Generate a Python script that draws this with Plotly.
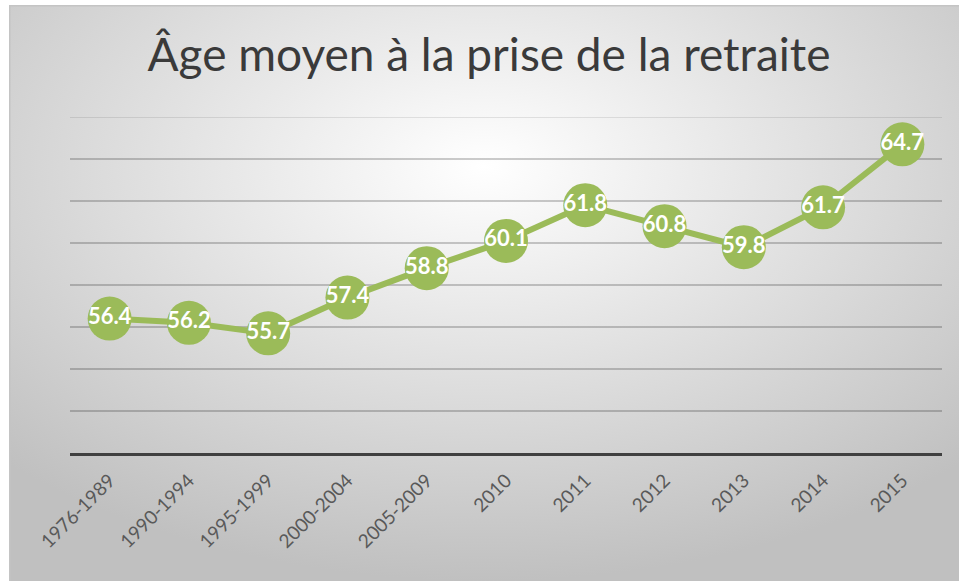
import plotly.graph_objects as go
import base64

categories = ["1976-1989", "1990-1994", "1995-1999", "2000-2004", "2005-2009",
              "2010", "2011", "2012", "2013", "2014", "2015"]
values = [56.4, 56.2, 55.7, 57.4, 58.8, 60.1, 61.8, 60.8, 59.8, 61.7, 64.7]
title_text = "Âge moyen à la prise de la retraite"

W, H = 959, 581
L, R, T, B = 70, 17, 117, 128
pw, ph = W - L - R, H - T - B
BX, BY = 9, 5  # background panel offset

svg = f'''<svg xmlns="http://www.w3.org/2000/svg" width="{W}" height="{H}" viewBox="0 0 {W} {H}" preserveAspectRatio="none">
<defs><radialGradient id="g" cx="50%" cy="28%" r="72%" fx="50%" fy="28%">
<stop offset="0%" stop-color="#ffffff"/><stop offset="100%" stop-color="#c0c0c0"/></radialGradient></defs>
<rect x="0" y="0" width="{W}" height="{H}" fill="url(#g)"/>
<rect x="0.75" y="0.75" width="{W}" height="{H}" fill="none" stroke="#c4c4c4" stroke-width="1.5"/></svg>'''
src = "data:image/svg+xml;base64," + base64.b64encode(svg.encode()).decode()

fig = go.Figure()
fig.add_trace(go.Scatter(
    x=categories, y=values, mode="lines+markers+text",
    line=dict(color="#9BBB59", width=6),
    marker=dict(size=44, color="#9BBB59"),
    text=[f"{v:.1f}" for v in values], textposition="middle center",
    textfont=dict(family="Lato", size=22, color="white", weight="bold"),
    cliponaxis=False, hoverinfo="skip"))

fig.add_layout_image(dict(source=src, xref="paper", yref="paper",
                          x=(BX - L) / pw, y=(H - B - BY) / ph,
                          sizex=(W - BX) / pw, sizey=(H - BY) / ph,
                          xanchor="left", yanchor="top", sizing="stretch", layer="below"))

# top gridline at the range edge
fig.add_shape(type="line", xref="paper", yref="y", x0=0, x1=1, y0=66, y1=66,
              line=dict(color="rgba(0,0,0,0.13)", width=1.5), layer="below")

fig.update_layout(
    width=W, height=H, margin=dict(l=L, r=R, t=T, b=B),
    paper_bgcolor="white", plot_bgcolor="rgba(0,0,0,0)",
    showlegend=False,
    title=dict(text=title_text, x=489 / W, xref="container", xanchor="center",
               y=(H - 55) / H, yref="container", yanchor="middle",
               font=dict(family="Lato", size=46, color="#3a3a3a")),
    xaxis=dict(type="category", range=[-0.5, 10.5], showgrid=False, showline=True,
               linecolor="#404040", linewidth=3, ticks="", tickangle=-45,
               ticklabelstandoff=6,
               tickfont=dict(family="Lato", size=19, color="#595959")),
    yaxis=dict(range=[50, 66], dtick=2, showticklabels=False, showgrid=True,
               gridcolor="rgba(0,0,0,0.2)", gridwidth=1.5, zeroline=False, showline=False),
)
fig.write_html("out.html", config={"displayModeBar": False},
               post_script="document.body.style.margin='0';")
